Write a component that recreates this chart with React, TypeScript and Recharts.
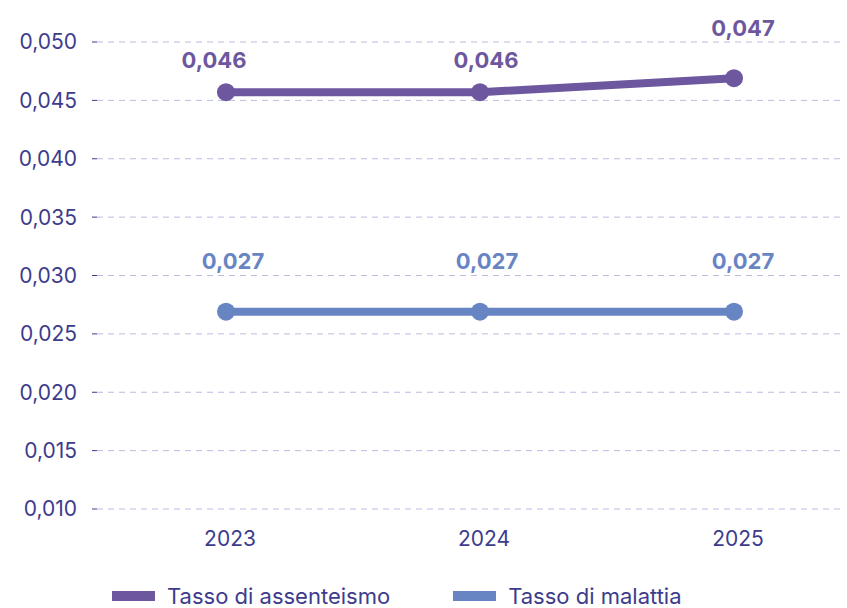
import { LineChart, Line, XAxis, YAxis, CartesianGrid, Legend, LabelList } from 'recharts';

const YEARS = ['2023', '2024', '2025'];
const ASSENTEISMO = [0.0457, 0.0457, 0.0469];
const MALATTIA = [0.0269, 0.0269, 0.0269];
const Y_TICKS = [0.01, 0.015, 0.02, 0.025, 0.03, 0.035, 0.04, 0.045, 0.05];

const PURPLE = '#6d58a0';
const BLUE = '#6885c3';
const TEXT = '#3d3c8c';
const FONT = 'Inter, "Open Sans", sans-serif';

// label nudges (dx, dy from point centre) per year
const PURPLE_NUDGE = [[-12, -32], [6, -32], [9, -50]];
const BLUE_NUDGE = [[7, -51], [7, -51], [9, -51]];

const data = YEARS.map((year, i) => ({
  year,
  assenteismo: ASSENTEISMO[i],
  malattia: MALATTIA[i],
}));

const fmt = (v: number) => v.toFixed(3).replace('.', ',');

const SERIES = [
  { name: 'Tasso di assenteismo', color: PURPLE },
  { name: 'Tasso di malattia', color: BLUE },
];

function ChartLegend() {
  return (
    <div style={{ display: 'flex', paddingLeft: 112, fontFamily: FONT, fontSize: 22, color: TEXT, lineHeight: '24px' }}>
      {SERIES.map((s, i) => (
        <div key={s.name} style={{ display: 'flex', alignItems: 'center', marginRight: i === 0 ? 63 : 0 }}>
          <span style={{ display: 'inline-block', width: 43, height: 10, background: s.color, marginRight: 12 }} />
          <span>{s.name}</span>
        </div>
      ))}
    </div>
  );
}

const makeLabel = (color: string, nudge: number[][]) => (props: any) => {
  const { x, y, value, index } = props;
  const [dx, dy] = nudge[index] || [0, -32];
  return (
    <text
      x={x + dx}
      y={y + dy}
      textAnchor="middle"
      dominantBaseline="central"
      fill={color}
      fontSize={22}
      fontWeight={700}
      fontFamily={FONT}
    >
      {fmt(value)}
    </text>
  );
};

export default function App() {
  return (
    <div style={{ position: 'absolute', left: 0, top: 0, background: '#fff' }}>
      <LineChart width={847} height={608} data={data} margin={{ top: 42, right: 7, bottom: 0, left: 0 }}>
        <CartesianGrid vertical={false} stroke="#bdbbe0" strokeDasharray="6 5" />
        <XAxis
          dataKey="year"
          axisLine={false}
          tickLine={false}
          height={75}
          tickMargin={16}
          padding={{ left: 129, right: 106 }}
          tick={{ fill: TEXT, fontSize: 21, fontFamily: FONT, dx: 4 }}
        />
        <YAxis
          domain={[0.01, 0.05]}
          ticks={Y_TICKS}
          width={97}
          axisLine={false}
          tickSize={5}
          tickMargin={15}
          tickLine={{ stroke: TEXT }}
          tickFormatter={fmt}
          tick={{ fill: TEXT, fontSize: 21, fontFamily: FONT }}
        />
        <Legend verticalAlign="bottom" height={24} content={() => <ChartLegend />} />
        <Line
          dataKey="assenteismo"
          name="Tasso di assenteismo"
          stroke={PURPLE}
          strokeWidth={8}
          dot={{ r: 9, fill: PURPLE, stroke: PURPLE, strokeWidth: 0 }}
          isAnimationActive={false}
        >
          <LabelList dataKey="assenteismo" content={makeLabel(PURPLE, PURPLE_NUDGE)} />
        </Line>
        <Line
          dataKey="malattia"
          name="Tasso di malattia"
          stroke={BLUE}
          strokeWidth={8}
          dot={{ r: 9, fill: BLUE, stroke: BLUE, strokeWidth: 0 }}
          isAnimationActive={false}
        >
          <LabelList dataKey="malattia" content={makeLabel(BLUE, BLUE_NUDGE)} />
        </Line>
      </LineChart>
    </div>
  );
}
